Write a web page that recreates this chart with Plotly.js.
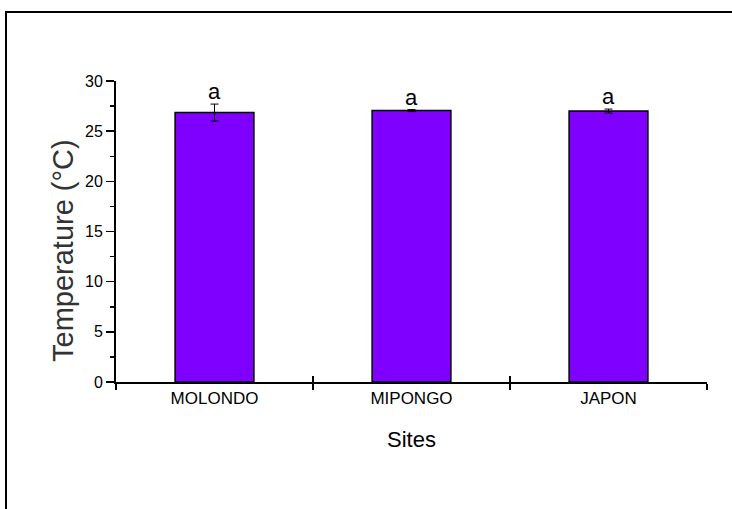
<!DOCTYPE html>
<html>
<head>
<meta charset="utf-8">
<script src="https://cdn.plot.ly/plotly-3.0.1.min.js"></script>
<style>
  html, body { margin: 0; padding: 0; background: #fff; overflow: hidden; }
  #wrap { position: relative; width: 732px; height: 509px; }
  #chart { position: absolute; left: 0; top: 0; width: 732px; height: 509px; }
  #frame { position: absolute; left: 5px; top: 11px; width: 800px; height: 600px;
           border-left: 2px solid #000; border-top: 2px solid #000; pointer-events: none; }
</style>
</head>
<body>
<div id="wrap">
  <div id="chart"></div>
  <div id="frame"></div>
</div>
<script>
// Data
const sites = ["MOLONDO", "MIPONGO", "JAPON"];
const temperature = [26.85, 27.05, 27.0];
const temperatureErr = [0.85, 0.1, 0.2];
const letters = ["a", "a", "a"];
const yTitle = "Temperature (°C)";
const xTitle = "Sites";

const SANS = '"Liberation Sans", Arial, sans-serif';

const trace = {
  type: "bar",
  x: sites,
  y: temperature,
  width: 0.4,
  marker: { color: "#7f00ff", line: { color: "#000", width: 1.5 } },
  error_y: { type: "data", array: temperatureErr, visible: true, color: "#000", thickness: 1, width: 4 },
  hoverinfo: "skip"
};

// invisible companion trace so the second (inside-tick) x axis is drawn
const tickTrace = {
  type: "bar", x: sites, y: temperature, xaxis: "x2", yaxis: "y",
  marker: { color: "rgba(0,0,0,0)" }, width: 0.4, hoverinfo: "skip", showlegend: false
};

const annotations = sites.map((s, i) => ({
  x: s, y: temperature[i] + temperatureErr[i], xref: "x", yref: "y",
  text: letters[i], showarrow: false, yanchor: "bottom", yshift: -2,
  font: { family: SANS, size: 22, color: "#000" }
}));

// y-axis title placed as a rotated annotation (sits a bit below the plot centre, as in the reference)
annotations.push({
  x: -0.0897, y: 0.4385, xref: "paper", yref: "paper",
  text: yTitle, textangle: -90, showarrow: false,
  xanchor: "center", yanchor: "middle",
  font: { family: SANS, size: 29, color: "#333" }
});

const layout = {
  width: 732, height: 509,
  margin: { l: 116, r: 25, t: 81, b: 127 },
  paper_bgcolor: "rgba(0,0,0,0)", plot_bgcolor: "rgba(0,0,0,0)",
  showlegend: false,
  xaxis: {
    type: "category", range: [-0.5, 2.5],
    tickson: "boundaries", ticks: "outside", ticklen: 6, tickwidth: 1.5, tickcolor: "#000",
    showline: true, linecolor: "#000", linewidth: 2,
    showgrid: false, zeroline: false,
    tickfont: { family: SANS, size: 17, color: "#000" },
    title: { text: xTitle, font: { family: SANS, size: 22, color: "#000" }, standoff: 24 }
  },
  xaxis2: {
    type: "category", overlaying: "x", matches: "x", side: "bottom",
    tickson: "boundaries", ticks: "inside", ticklen: 6, tickwidth: 1.5, tickcolor: "#000",
    showticklabels: false, showline: false, showgrid: false, zeroline: false
  },
  yaxis: {
    range: [0, 30], dtick: 5, tick0: 0,
    ticks: "outside", ticklen: 8, tickwidth: 1.5, tickcolor: "#000",
    minor: { dtick: 2.5, ticks: "outside", ticklen: 4, tickwidth: 1.5, tickcolor: "#000", showgrid: false },
    showline: true, linecolor: "#000", linewidth: 2,
    showgrid: false, zeroline: false,
    tickfont: { family: SANS, size: 16, color: "#000" }
  },
  annotations: annotations
};

Plotly.newPlot("chart", [trace, tickTrace], layout, { staticPlot: true, displayModeBar: false });
</script>
</body>
</html>
